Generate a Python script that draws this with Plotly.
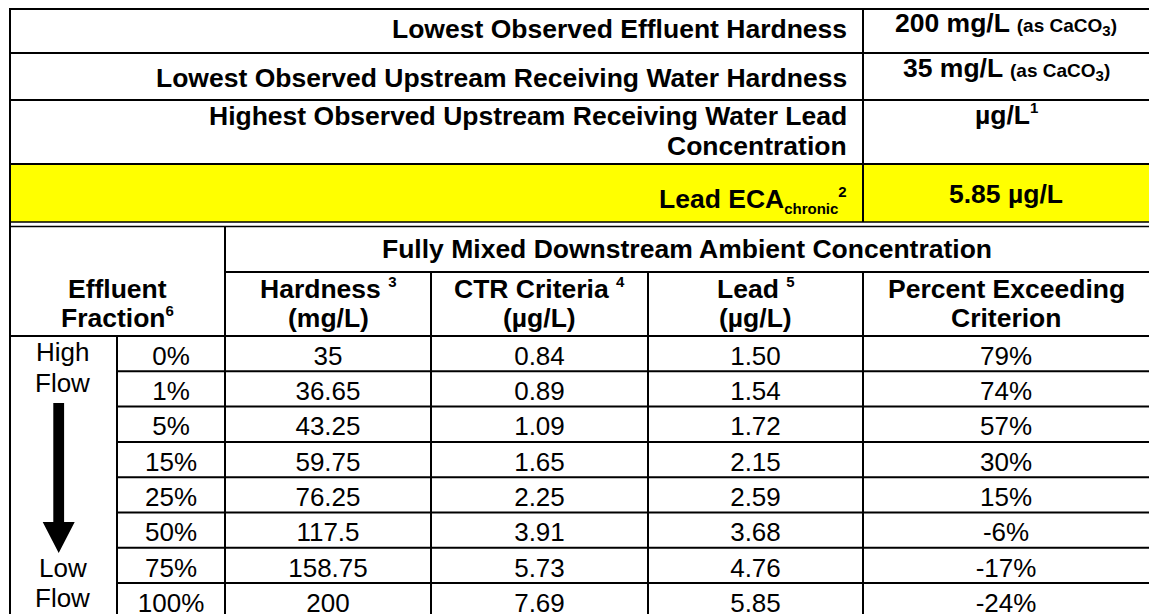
import re
import plotly.graph_objects as go

# ------------------------------------------------------------------ data
summary_labels = [
    "Lowest Observed Effluent Hardness",
    "Lowest Observed Upstream Receiving Water Hardness",
    "Highest Observed Upstream Receiving Water Lead<br>Concentration",
    "Lead ECA<sub>chronic</sub><sup>2</sup>",
]
summary_values = ["200 mg/L", "35 mg/L", "µg/L<sup>1</sup>", "5.85 µg/L"]
summary_notes = ["(as CaCO<sub>3</sub>)", "(as CaCO<sub>3</sub>)", "", ""]
highlight_row = 3

group_title = "Fully Mixed Downstream Ambient Concentration"
fraction_header = ["Effluent", "Fraction<sup>6</sup>"]
column_headers = [
    ["Hardness <sup>3</sup>", "(mg/L)"],
    ["CTR Criteria <sup>4</sup>", "(µg/L)"],
    ["Lead <sup>5</sup>", "(µg/L)"],
    ["Percent Exceeding", "Criterion"],
]
flow_top = ["High", "Flow"]
flow_bottom = ["Low", "Flow"]

effluent_fraction = [0, 1, 5, 15, 25, 50, 75, 100]
hardness_mg_l = [35, 36.65, 43.25, 59.75, 76.25, 117.5, 158.75, 200]
ctr_criteria_ug_l = [0.84, 0.89, 1.09, 1.65, 2.25, 3.91, 5.73, 7.69]
lead_ug_l = [1.50, 1.54, 1.72, 2.15, 2.59, 3.68, 4.76, 5.85]
percent_exceeding = [79, 74, 57, 30, 15, -6, -17, -24]

# ------------------------------------------------------------------ layout geometry
W, H = 1149, 614
FONT = "Liberation Sans, Arial, Helvetica, sans-serif"
BOLD_SIZE = 26.5
REG_SIZE = 26
NOTE_SIZE = 19
SCRIPT_SIZE = 15
LINE_W = 2

X_L, X_SPLIT, X_R = 10, 863, 1149
X_LABEL_RIGHT = 848
COL_EDGES = [10, 117, 225, 431, 648, 863, 1149]
TOP_EDGES = [9, 53, 100, 164, 222]
Y_DOUBLE = 226.5
Y_SUB = 272
Y_HEAD = 336
ROW_H = 35.3

# baselines (px from top) for the text of each block
TOP_LEFT_BASE = [[38], [87], [125, 155], [209]]
TOP_RIGHT_BASE = [33, 78, 124, 203]
TITLE_BASE = 258
HEAD_BASE = [298, 327]
ROW_BASE_OFF = 28.7
FLOW_TOP_BASE = [361, 392]
FLOW_BOT_BASE = [577, 607]

fig = go.Figure()


def scripts(text):
    text = re.sub(r"<sup>(.*?)</sup>",
                  rf"<sup><span style='font-size:{SCRIPT_SIZE}px'>\1</span></sup>", text)
    text = re.sub(r"<sub>(.*?)</sub>",
                  rf"<sub><span style='font-size:{SCRIPT_SIZE}px'>\1</span></sub>", text)
    return text


def add_text(x, base, text, size, bold=True, xanchor="center"):
    t = scripts(text)
    t = f"<b>{t}</b>" if bold else t
    fig.add_annotation(
        x=x, y=base - 0.347 * size, xref="x", yref="y",
        text=t, showarrow=False, xanchor=xanchor, yanchor="middle",
        borderpad=0, font=dict(family=FONT, size=size, color="black"),
    )


# highlighted row
fig.add_shape(type="rect", x0=X_L, x1=X_R, y0=TOP_EDGES[highlight_row],
              y1=TOP_EDGES[highlight_row + 1], fillcolor="#FFFF00",
              line=dict(width=0), layer="below")


def hline(y, x0, x1, w=LINE_W):
    fig.add_shape(type="line", x0=x0, x1=x1, y0=y, y1=y,
                  line=dict(color="black", width=w))


def vline(x, y0, y1, w=LINE_W):
    fig.add_shape(type="line", x0=x, x1=x, y0=y0, y1=y1,
                  line=dict(color="black", width=w))


# top block lines
for y in TOP_EDGES[:-1]:
    hline(y, X_L - 1, X_R)
hline(TOP_EDGES[-1], X_L - 1, X_R, 1.6)
hline(Y_DOUBLE, X_L - 1, X_R, 1.6)
vline(X_SPLIT, TOP_EDGES[0], TOP_EDGES[-1])
vline(X_L, TOP_EDGES[0] - 1, H + 5)

# lower block lines
hline(Y_SUB, COL_EDGES[2], X_R)
hline(Y_HEAD, X_L, X_R)
n_rows = len(effluent_fraction)
for i in range(1, n_rows + 1):
    hline(Y_HEAD + i * ROW_H, COL_EDGES[1], X_R)
vline(COL_EDGES[2], Y_DOUBLE, H + 5)
vline(COL_EDGES[1], Y_HEAD, H + 5)
for x in COL_EDGES[3:6]:
    vline(x, Y_SUB, H + 5)

# flow arrow
ax = 58.7
fig.add_shape(
    type="path",
    path=(f"M {ax-5.4} 403 L {ax+5.4} 403 L {ax+5.4} 522 L {ax+16} 522 "
          f"L {ax} 553 L {ax-16} 522 L {ax-5.4} 522 Z"),
    fillcolor="black", line=dict(width=0),
)

# top block text
for i, lab in enumerate(summary_labels):
    for line, base in zip(lab.split("<br>"), TOP_LEFT_BASE[i]):
        add_text(X_LABEL_RIGHT, base, line, BOLD_SIZE, xanchor="right")
    val = summary_values[i]
    if summary_notes[i]:
        val = val + f" <span style='font-size:{NOTE_SIZE}px'>{summary_notes[i]}</span>"
    add_text((X_SPLIT + X_R) / 2, TOP_RIGHT_BASE[i], val, BOLD_SIZE)

# lower block headers
add_text((COL_EDGES[2] + X_R) / 2, TITLE_BASE, group_title, BOLD_SIZE)
for line, base in zip(fraction_header, HEAD_BASE):
    add_text((COL_EDGES[0] + COL_EDGES[2]) / 2, base, line, BOLD_SIZE)
for j, hdr in enumerate(column_headers):
    cx = (COL_EDGES[2 + j] + COL_EDGES[3 + j]) / 2
    for line, base in zip(hdr, HEAD_BASE):
        add_text(cx, base, line, BOLD_SIZE)

flow_x = (COL_EDGES[0] + COL_EDGES[1]) / 2 - 1
for line, base in zip(flow_top, FLOW_TOP_BASE):
    add_text(flow_x, base, line, REG_SIZE, bold=False)
for line, base in zip(flow_bottom, FLOW_BOT_BASE):
    add_text(flow_x, base, line, REG_SIZE, bold=False)

# data cells through a text trace per column
row_y = [Y_HEAD + i * ROW_H + ROW_BASE_OFF - 0.25 * REG_SIZE for i in range(n_rows)]
columns = [
    [f"{v}%" for v in effluent_fraction],
    [f"{v:g}" for v in hardness_mg_l],
    [f"{v:.2f}" for v in ctr_criteria_ug_l],
    [f"{v:.2f}" for v in lead_ug_l],
    [f"{v}%" for v in percent_exceeding],
]
for j, texts in enumerate(columns):
    cx = (COL_EDGES[1 + j] + COL_EDGES[2 + j]) / 2
    fig.add_trace(go.Scatter(
        x=[cx] * n_rows, y=row_y, text=texts, mode="text",
        textposition="middle center",
        textfont=dict(family=FONT, size=REG_SIZE, color="black"),
        hoverinfo="skip", showlegend=False, cliponaxis=False,
    ))

fig.update_layout(
    width=W, height=H, margin=dict(l=0, r=0, t=0, b=0, pad=0),
    paper_bgcolor="white", plot_bgcolor="white",
    xaxis=dict(range=[0, W], visible=False, fixedrange=True),
    yaxis=dict(range=[H, 0], visible=False, fixedrange=True),
)

fig.write_html(
    "out.html",
    config={"displayModeBar": False, "staticPlot": True},
    post_script="document.body.style.margin='0px';document.body.style.overflow='hidden';",
)
